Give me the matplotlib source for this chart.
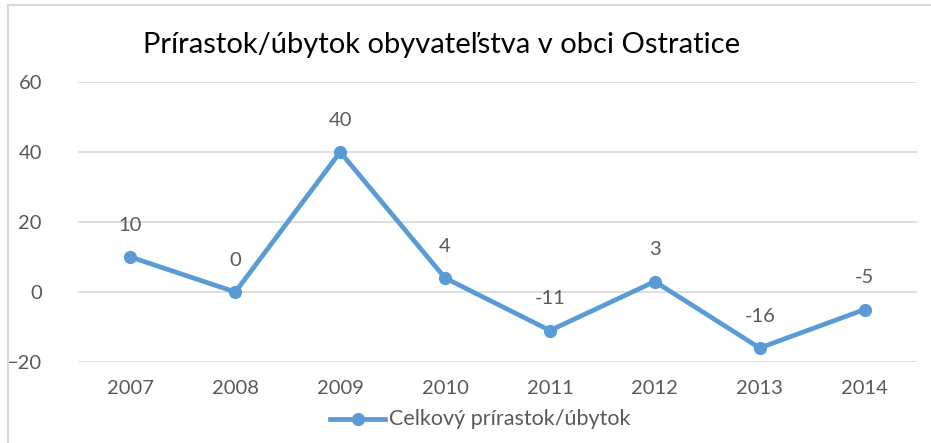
import matplotlib
matplotlib.use("Agg")
import matplotlib.pyplot as plt
from matplotlib.lines import Line2D

years = ["2007", "2008", "2009", "2010", "2011", "2012", "2013", "2014"]
values = [10, 0, 40, 4, -11, 3, -16, -5]
yticks = [-20, 0, 20, 40, 60]
title = "Prírastok/úbytok obyvateľstva v obci Ostratice"
series_name = "Celkový prírastok/úbytok"

plt.rcParams['font.family'] = ['Lato', 'DejaVu Sans']
W, H = 931, 443
fig = plt.figure(figsize=(W / 100, H / 100), dpi=100)
fig.patch.set_facecolor("white")

line_color = "#5B9BD5"
text_color = "#595959"
grid_color = "#D9D9D9"
fs = 14.5

left, right = 78 / W, 917 / W
top_px, bot_px = 82, 362
ax = fig.add_axes([left, 1 - bot_px / H, right - left, (bot_px - top_px) / H])
x = list(range(len(years)))
ax.plot(x, values, color=line_color, lw=3.4, marker="o", ms=8.5, zorder=3)
ax.set_xlim(-0.5, len(years) - 0.5)
ax.set_ylim(-20, 60)
ax.set_yticks(yticks)
ax.set_xticks(x)
ax.set_xticklabels(years)
ax.grid(axis="y", color=grid_color, lw=1.2)
ax.set_axisbelow(True)
for s in ax.spines.values():
    s.set_visible(False)
ax.tick_params(length=0, labelsize=fs, colors=text_color)
ax.tick_params(axis="x", pad=13)
ax.tick_params(axis="y", pad=26)

for xi, v in zip(x, values):
    ax.annotate(str(v), (xi, v), xytext=(0, 23), textcoords="offset points",
                ha="center", va="center", fontsize=fs, color=text_color)

fig.text(442 / W, 1 - 45 / H, title, ha="center", va="center", fontsize=21, color="#000000")

# legend
ly = 1 - 419 / H
fig.add_artist(Line2D([330 / W, 385 / W], [ly, ly], color=line_color, lw=3.4, transform=fig.transFigure))
fig.add_artist(Line2D([358 / W], [ly], color=line_color, marker="o", ms=8.5, transform=fig.transFigure))
fig.text(389 / W, ly, series_name, ha="left", va="center", fontsize=15.5, color=text_color)

# border (left and top only visible)
fig.add_artist(Line2D([8 / W, 8 / W], [0, 1 - 5 / H], color=grid_color, lw=1.5, transform=fig.transFigure))
fig.add_artist(Line2D([8 / W, 1], [1 - 5 / H, 1 - 5 / H], color=grid_color, lw=1.5, transform=fig.transFigure))

fig.savefig("out.png", dpi=100, facecolor="white")
